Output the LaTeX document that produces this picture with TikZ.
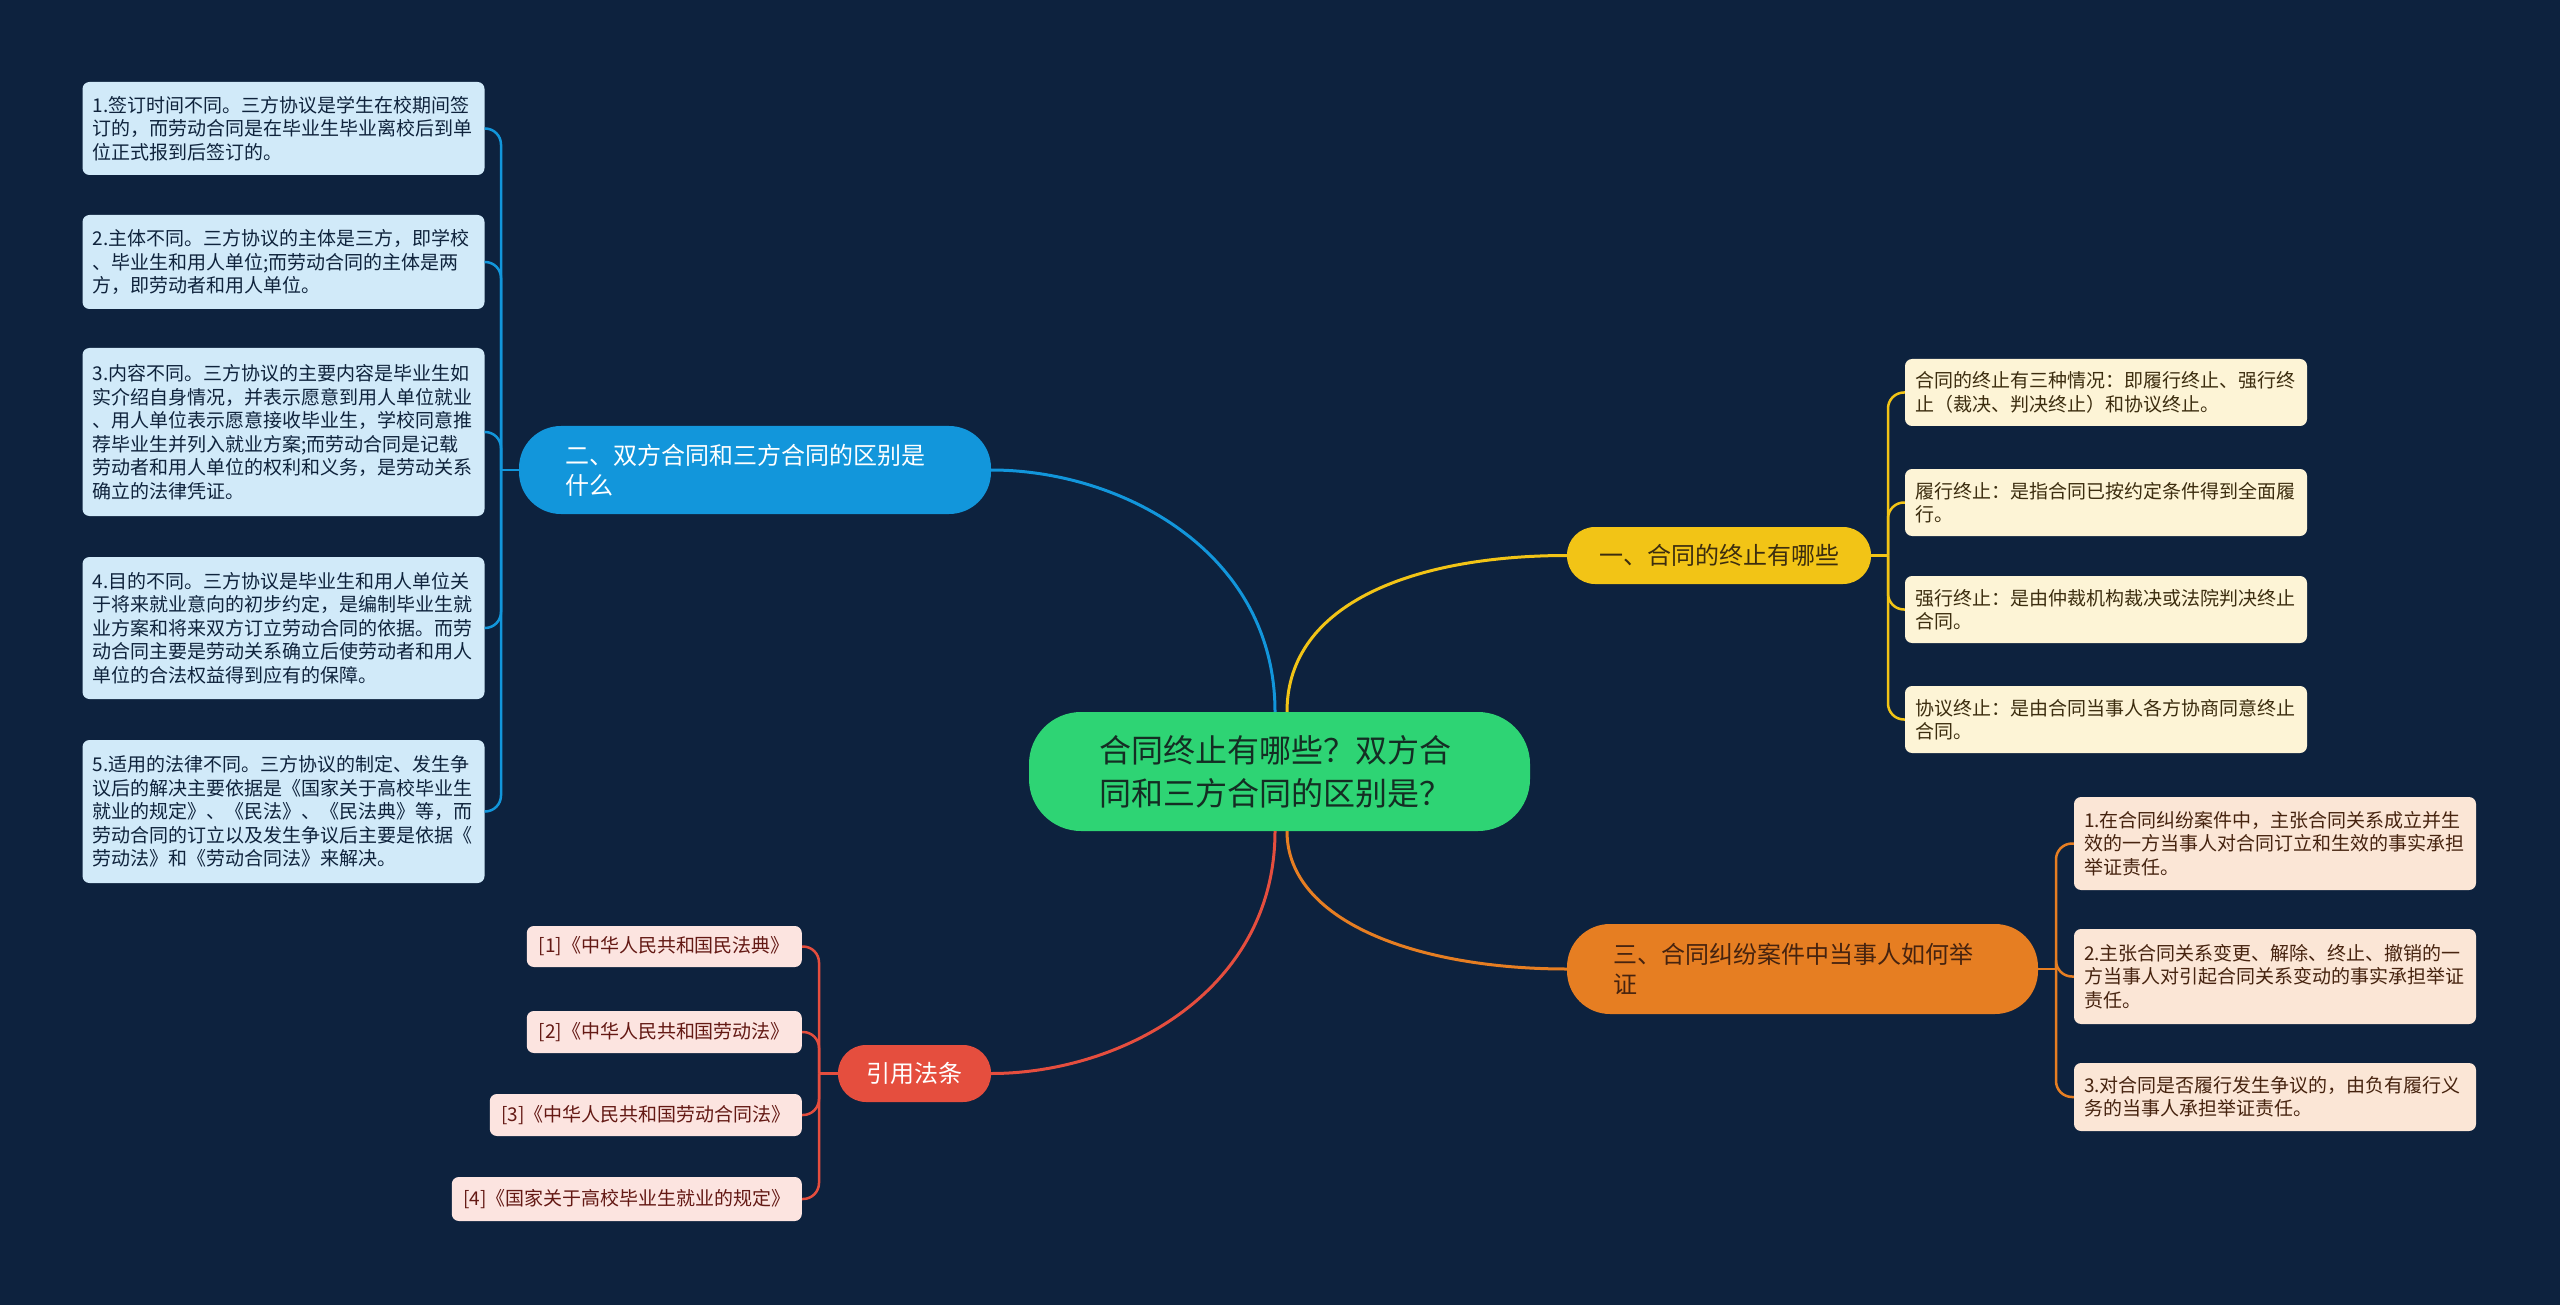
\documentclass[tikz,border=0pt]{standalone}
\usepackage{fontspec}
\setmainfont{Noto Sans CJK SC}
\definecolor{bg}{RGB}{13,34,62}
\definecolor{cgreen}{RGB}{46,212,116}
\definecolor{cblue}{RGB}{18,150,219}
\definecolor{cblueL}{RGB}{209,234,249}
\definecolor{cyel}{RGB}{242,196,22}
\definecolor{cyelL}{RGB}{253,244,214}
\definecolor{corg}{RGB}{230,126,34}
\definecolor{corgL}{RGB}{251,230,214}
\definecolor{cred}{RGB}{229,78,62}
\definecolor{credL}{RGB}{252,228,224}
\definecolor{tnavy}{RGB}{15,35,60}
\definecolor{tyel}{RGB}{60,45,15}
\definecolor{torg}{RGB}{70,35,15}
\definecolor{tred}{RGB}{100,25,20}
\definecolor{tgreen}{RGB}{20,45,35}
\begin{document}
\begin{tikzpicture}[x=1pt,y=-1pt,
  leaf/.style={rounded corners=7pt, text width=382pt, inner xsep=10pt, inner ysep=0pt,
    align=left, font=\fontsize{19}{23.5}\selectfont, anchor=center},
  bleaf/.style={leaf, fill=cblueL, text=tnavy},
  yleaf/.style={leaf, fill=cyelL, text=tyel},
  oleaf/.style={leaf, fill=corgL, text=torg},
  rleaf/.style={rounded corners=7pt, inner xsep=10pt, inner ysep=0pt, align=center,
    font=\fontsize{19}{23.5}\selectfont, anchor=east, fill=credL, text=tred},
  mainnode/.style={inner ysep=0pt, align=left, font=\fontsize{24}{30}\selectfont, anchor=center},
  conn/.style={line width=3pt},
  brk/.style={line width=2.5pt, rounded corners=16pt}
]
\fill[bg] (0,0) rectangle (2560,1305);
\useasboundingbox (0,0) rectangle (2560,1305);

% root
\node[rounded corners=52pt, fill=cgreen, text=tgreen, minimum width=501pt, minimum height=119pt,
  text width=360pt, inner xsep=70.5pt, inner ysep=0pt, align=left,
  font=\fontsize{32}{43}\selectfont] (root) at (1279.5,771.5)
  {合同终止有哪些？双方合\\同和三方合同的区别是？};

% main branches
\node[mainnode, rounded corners=42pt, fill=cblue, text=white, minimum width=472pt, minimum height=88pt,
  text width=380pt, inner xsep=46pt] (blue) at (755,470)
  {二、双方合同和三方合同的区别是\\什么};
\node[mainnode, rounded corners=28pt, fill=cyel, text=tyel, minimum width=304pt, minimum height=57pt,
  inner xsep=0pt, align=center] (yellow) at (1719,555.5) {一、合同的终止有哪些};
\node[mainnode, rounded corners=43pt, fill=corg, text=torg, minimum width=471pt, minimum height=90pt,
  text width=379pt, inner xsep=46pt] (orange) at (1802.5,969)
  {三、合同纠纷案件中当事人如何举\\证};
\node[mainnode, rounded corners=28pt, fill=cred, text=white, minimum width=153pt, minimum height=57pt,
  inner xsep=0pt, align=center] (red) at (914.5,1073.5) {引用法条};

% blue leaves
\node[bleaf, minimum height=93pt] (b1) at (283.5,128.5)
  {1.签订时间不同。三方协议是学生在校期间签\\订的，而劳动合同是在毕业生毕业离校后到单\\位正式报到后签订的。};
\node[bleaf, minimum height=94pt] (b2) at (283.5,262)
  {2.主体不同。三方协议的主体是三方，即学校\\、毕业生和用人单位;而劳动合同的主体是两\\方，即劳动者和用人单位。};
\node[bleaf, minimum height=168pt] (b3) at (283.5,432)
  {3.内容不同。三方协议的主要内容是毕业生如\\实介绍自身情况，并表示愿意到用人单位就业\\、用人单位表示愿意接收毕业生，学校同意推\\荐毕业生并列入就业方案;而劳动合同是记载\\劳动者和用人单位的权利和义务，是劳动关系\\确立的法律凭证。};
\node[bleaf, minimum height=142pt] (b4) at (283.5,628)
  {4.目的不同。三方协议是毕业生和用人单位关\\于将来就业意向的初步约定，是编制毕业生就\\业方案和将来双方订立劳动合同的依据。而劳\\动合同主要是劳动关系确立后使劳动者和用人\\单位的合法权益得到应有的保障。};
\node[bleaf, minimum height=143pt] (b5) at (283.5,811.5)
  {5.适用的法律不同。三方协议的制定、发生争\\议后的解决主要依据是《国家关于高校毕业生\\就业的规定》、《民法》、《民法典》等，而\\劳动合同的订立以及发生争议后主要是依据《\\劳动法》和《劳动合同法》来解决。};

% yellow leaves
\node[yleaf, minimum height=67pt] (y1) at (2106,392.5)
  {合同的终止有三种情况：即履行终止、强行终\\止（裁决、判决终止）和协议终止。};
\node[yleaf, minimum height=67pt] (y2) at (2106,502.5)
  {履行终止：是指合同已按约定条件得到全面履\\行。};
\node[yleaf, minimum height=67pt] (y3) at (2106,609.5)
  {强行终止：是由仲裁机构裁决或法院判决终止\\合同。};
\node[yleaf, minimum height=67pt] (y4) at (2106,719.5)
  {协议终止：是由合同当事人各方协商同意终止\\合同。};

% orange leaves
\node[oleaf, minimum height=93pt] (o1) at (2275,843.5)
  {1.在合同纠纷案件中，主张合同关系成立并生\\效的一方当事人对合同订立和生效的事实承担\\举证责任。};
\node[oleaf, minimum height=95pt] (o2) at (2275,976.5)
  {2.主张合同关系变更、解除、终止、撤销的一\\方当事人对引起合同关系变动的事实承担举证\\责任。};
\node[oleaf, minimum height=68pt] (o3) at (2275,1097)
  {3.对合同是否履行发生争议的，由负有履行义\\务的当事人承担举证责任。};

% red leaves
\node[rleaf, minimum width=275pt, minimum height=41pt] (r1) at (802,946.5) {[1]《中华人民共和国民法典》};
\node[rleaf, minimum width=275pt, minimum height=42pt] (r2) at (802,1032) {[2]《中华人民共和国劳动法》};
\node[rleaf, minimum width=312pt, minimum height=42pt] (r3) at (802,1115) {[3]《中华人民共和国劳动合同法》};
\node[rleaf, minimum width=350pt, minimum height=44pt] (r4) at (802,1199) {[4]《国家关于高校毕业生就业的规定》};

% main connectors
\draw[conn, draw=cblue] ([xshift=-4.5pt]root.north) .. controls +(0,-160) and +(130,0) .. (blue.east);
\draw[conn, draw=cyel] ([xshift=7.5pt]root.north) .. controls +(0,-110) and +(-150,0) .. (yellow.west);
\draw[conn, draw=corg] ([xshift=7.5pt]root.south) .. controls +(0,90) and +(-150,0) .. (orange.west);
\draw[conn, draw=cred] ([xshift=-4.5pt]root.south) .. controls +(0,160) and +(130,0) .. (red.east);

% brackets
\coordinate (tb) at (501,470);
\coordinate (ty) at (1888,555.5);
\coordinate (to) at (2056,969);
\coordinate (tr) at (819,1073.5);
\draw[brk, draw=cblue] (blue.west) -- (tb);
\foreach \n in {b1,b2,b3,b4,b5} \draw[brk, draw=cblue] (tb) |- (\n.east);
\draw[brk, draw=cyel] (yellow.east) -- (ty);
\foreach \n in {y1,y2,y3,y4} \draw[brk, draw=cyel] (ty) |- (\n.west);
\draw[brk, draw=corg] (orange.east) -- (to);
\foreach \n in {o1,o2,o3} \draw[brk, draw=corg] (to) |- (\n.west);
\draw[brk, draw=cred] (red.west) -- (tr);
\foreach \n in {r1,r2,r3,r4} \draw[brk, draw=cred] (tr) |- (\n.east);
\end{tikzpicture}
\end{document}
